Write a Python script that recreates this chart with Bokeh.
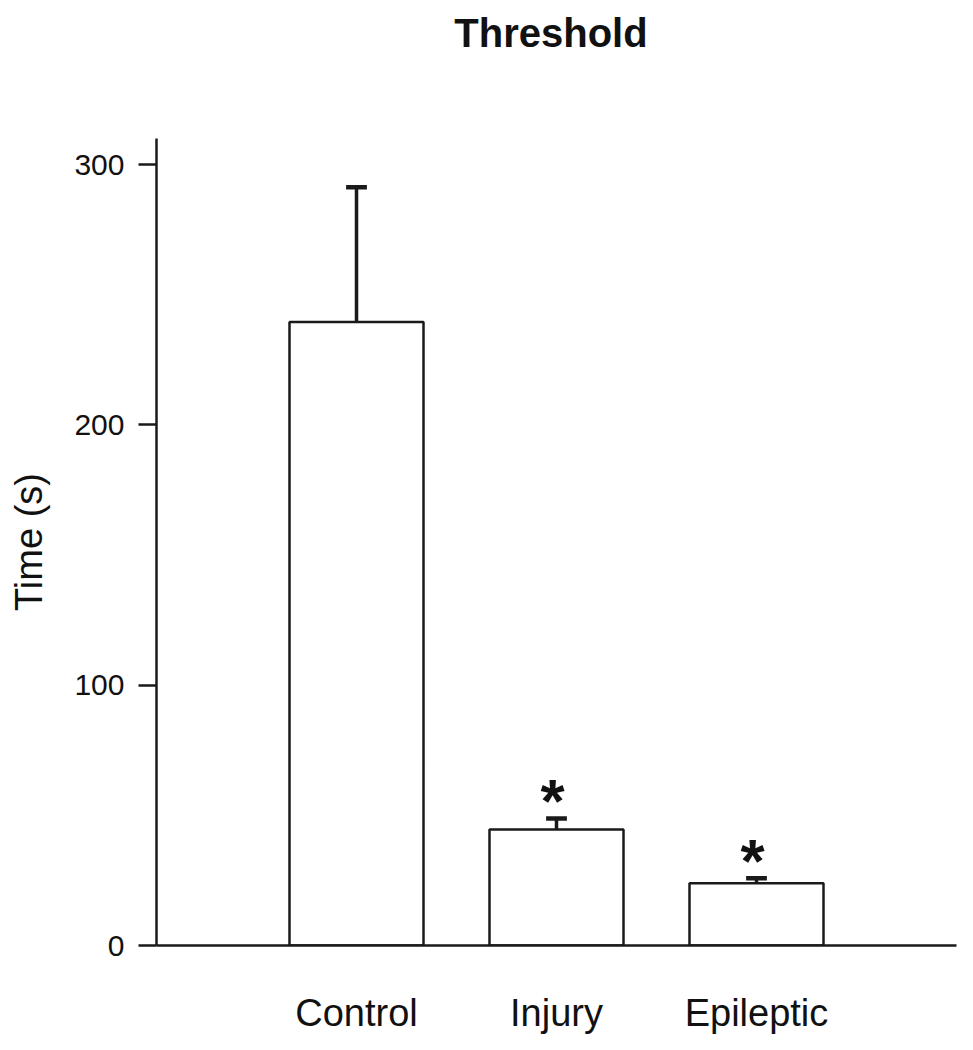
from bokeh.plotting import figure
from bokeh.models import Range1d, FixedTicker, ColumnDataSource, Div
from bokeh.layouts import column
from bokeh.core.properties import value
from bokeh.embed import file_html
from bokeh.resources import INLINE

# ---- data ----
categories = ["Control", "Injury", "Epileptic"]
means = [239.5, 44.6, 23.9]
sem = [51.8, 4.2, 1.9]
marks = ["", "*", "*"]
y_ticks = [0, 100, 200, 300]
title_text = "Threshold"

positions = [i + 1 for i in range(len(categories))]
upper = [m + s for m, s in zip(means, sem)]
CAP = 0.052
LINE = "#1a1a1a"
FONT = "Liberation Sans"

src = ColumnDataSource(dict(x=positions, mean=means, upper=upper, mark=marks,
                            cap0=[x - CAP for x in positions],
                            cap1=[x + CAP for x in positions]))

title = Div(text=title_text, width=800, height=66, margin=(0, 0, 0, 151),
            styles={"font-family": FONT, "font-size": "40px",
                    "font-weight": "bold", "color": "#111111",
                    "text-align": "center", "line-height": "66px"})

p = figure(frame_width=800, frame_height=807,
           min_border_left=156, min_border_top=72,
           min_border_right=4, min_border_bottom=95,
           x_range=Range1d(0, 4), y_range=Range1d(0, 310),
           output_backend="svg", toolbar_location=None)

p.outline_line_color = None
p.xgrid.visible = False
p.ygrid.visible = False
p.background_fill_color = "white"
p.border_fill_color = "white"

# bars
p.vbar(x="x", top="mean", bottom=0, width=0.67, source=src,
       fill_color="white", line_color=LINE, line_width=2.5)

# error bars (upper only)
p.segment(x0="x", y0="mean", x1="x", y1="upper", source=src,
          line_color=LINE, line_width=3.5)
p.segment(x0="cap0", y0="upper", x1="cap1", y1="upper", source=src,
          line_color=LINE, line_width=4.5)

# significance marks
p.text(x="x", y="upper", text="mark", source=src,
       text_font=value(FONT), text_font_style="bold", text_font_size="62px",
       text_align="center", text_baseline="alphabetic",
       x_offset=-4, y_offset=-18, text_color="#111111")

# y axis
ya = p.yaxis[0]
ya.ticker = FixedTicker(ticks=y_ticks)
ya.axis_line_width = 2.5
ya.axis_line_color = LINE
ya.major_tick_line_color = LINE
ya.major_tick_line_width = 2.5
ya.major_tick_out = 18
ya.major_tick_in = 0
ya.minor_tick_line_color = None
ya.major_label_text_font = FONT
ya.major_label_text_font_size = "30px"
ya.major_label_text_color = "#111111"
ya.major_label_standoff = 14
ya.axis_label = "Time (s)"
ya.axis_label_text_font = FONT
ya.axis_label_text_font_size = "38px"
ya.axis_label_text_font_style = "normal"
ya.axis_label_text_color = "#111111"
ya.axis_label_standoff = 21

# x axis
xa = p.xaxis[0]
xa.ticker = FixedTicker(ticks=positions)
xa.major_label_overrides = {x: c for x, c in zip(positions, categories)}
xa.axis_line_width = 2.5
xa.axis_line_color = LINE
xa.major_tick_line_color = None
xa.major_tick_out = 0
xa.major_tick_in = 0
xa.minor_tick_line_color = None
xa.major_label_text_font = FONT
xa.major_label_text_font_size = "38px"
xa.major_label_text_color = "#111111"
xa.major_label_standoff = 46

layout = column(title, p, spacing=0)
open("out.html", "w").write(file_html(layout, INLINE))
